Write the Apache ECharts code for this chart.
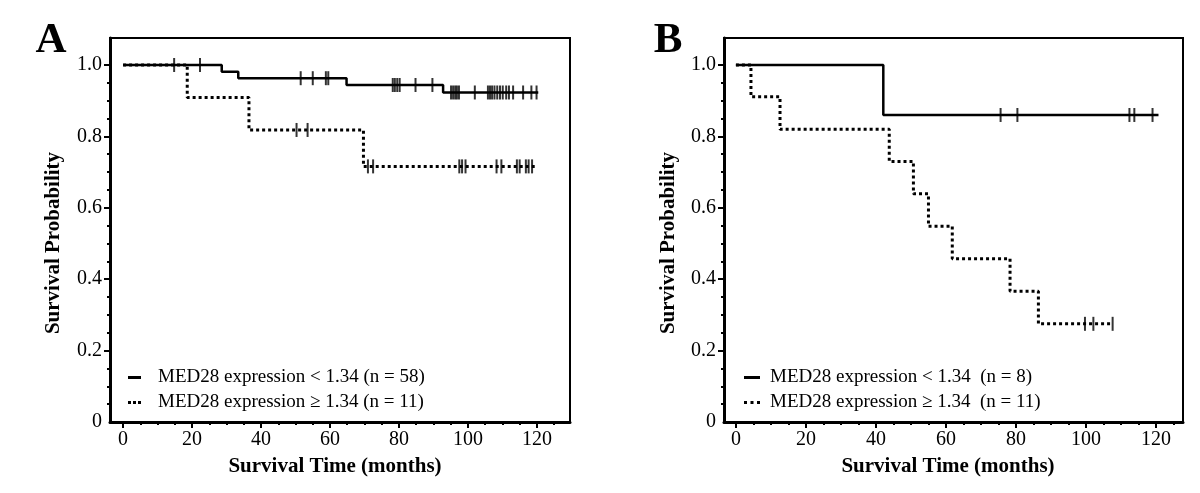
<!DOCTYPE html>
<html>
<head>
<meta charset="utf-8">
<script src="https://cdn.jsdelivr.net/npm/echarts@6/dist/echarts.min.js"></script>
<style>
html,body{margin:0;padding:0;background:#fff;}
#chart{width:1200px;height:493px;}
</style>
</head>
<body>
<div id="chart"></div>
<script>
// ---------- Data ----------
// Panel A
const aLowName = 'MED28 expression < 1.34 (n = 58)';
const aHighName = 'MED28 expression \u2265 1.34 (n = 11)';
const aLowTime = [0, 28.6, 33.4, 64.8, 92.8, 120.4];
const aLowSurv = [1.0, 0.981, 0.963, 0.944, 0.923, 0.923];
const aLowCensor = [14.8, 22.3, 51.5, 55.0, 58.8, 59.5, 78.2, 78.8, 79.5, 80.2, 84.8, 89.7,
  95.1, 95.7, 96.3, 96.8, 97.4, 102.0, 105.8, 106.4, 107.0, 107.7, 108.5, 109.3, 110.1,
  111.1, 111.9, 113.1, 116.0, 118.4, 119.9];
const aHighTime = [0, 18.6, 36.5, 69.7, 119.4];
const aHighSurv = [1.0, 0.909, 0.818, 0.716, 0.716];
const aHighCensor = [50.3, 53.5, 71.0, 72.5, 97.5, 98.3, 99.3, 108.3, 109.7,
  114.2, 115.0, 116.8, 117.6, 118.6];

// Panel B
const bLowName = 'MED28 expression < 1.34  (n = 8)';
const bHighName = 'MED28 expression \u2265 1.34  (n = 11)';
const bLowTime = [0, 42.1, 120.7];
const bLowSurv = [1.0, 0.86, 0.86];
const bLowCensor = [75.6, 80.4, 112.4, 113.8, 119.0];
const bHighTime = [0, 4.3, 12.6, 43.8, 50.7, 55.0, 61.8, 78.3, 86.4, 107.6];
const bHighSurv = [1.0, 0.911, 0.820, 0.730, 0.639, 0.548, 0.457, 0.366, 0.275, 0.275];
const bHighCensor = [99.7, 102.1, 107.6];

// Tick labels
const xMajorTicks = [0, 20, 40, 60, 80, 100, 120];
const xMinorTicks = [5, 10, 15, 25, 30, 35, 45, 50, 55, 65, 70, 75, 85, 90, 95, 105, 110, 115, 125];
const yMajorTicks = [0, 0.2, 0.4, 0.6, 0.8, 1.0];
const yMinorTicks = [0.05, 0.1, 0.15, 0.25, 0.3, 0.35, 0.45, 0.5, 0.55, 0.65, 0.7, 0.75, 0.85, 0.9, 0.95];

// ---------- Helpers ----------
function pairs(T, S) { return T.map((t, i) => [t, S[i]]); }
function survAt(T, S, t) { let s = S[0]; for (let i = 0; i < T.length; i++) if (T[i] <= t) s = S[i]; return s; }
function censorPts(C, T, S) { return C.map(t => [t, survAt(T, S, t)]); }

const FONT = 'Liberation Serif';
const grids = [
  { left: 110, top: 38, width: 460, height: 384, xmin: -3.8, xmax: 129.6 },
  { left: 724, top: 38, width: 459, height: 384, xmin: -3.4, xmax: 127.7 }
];

const xAxis = [], yAxis = [];
grids.forEach((g, gi) => {
  xAxis.push({
    type: 'value', gridIndex: gi, position: 'bottom', min: g.xmin, max: g.xmax,
    axisLine: { show: true, onZero: false, lineStyle: { color: '#000', width: 3 } },
    axisTick: { show: true, customValues: xMajorTicks, length: 6, lineStyle: { color: '#000', width: 2 } },
    axisLabel: { show: true, customValues: xMajorTicks, margin: 8, color: '#000', fontFamily: FONT, fontSize: 20 },
    splitLine: { show: false }
  });
  xAxis.push({
    type: 'value', gridIndex: gi, position: 'bottom', min: g.xmin, max: g.xmax,
    axisLine: { show: false, onZero: false },
    axisTick: { show: true, customValues: xMinorTicks, length: 3, lineStyle: { color: '#000', width: 2 } },
    axisLabel: { show: false }, splitLine: { show: false }
  });
  yAxis.push({
    type: 'value', gridIndex: gi, position: 'left', min: 0, max: 1.0756,
    axisLine: { show: true, onZero: false, lineStyle: { color: '#000', width: 3 } },
    axisTick: { show: true, customValues: yMajorTicks.slice(1), length: 6, lineStyle: { color: '#000', width: 2 } },
    axisLabel: { show: true, customValues: yMajorTicks, margin: 8, color: '#000', fontFamily: FONT, fontSize: 20,
      formatter: v => (v === 0 ? '0' : v.toFixed(1)) },
    splitLine: { show: false }
  });
  yAxis.push({
    type: 'value', gridIndex: gi, position: 'left', min: 0, max: 1.0756,
    axisLine: { show: false, onZero: false },
    axisTick: { show: true, customValues: yMinorTicks, length: 3, lineStyle: { color: '#000', width: 2 } },
    axisLabel: { show: false }, splitLine: { show: false }
  });
});

function kmLine(name, T, S, gi, dotted) {
  return {
    type: 'line', name: name, xAxisIndex: gi * 2, yAxisIndex: gi * 2, step: 'end',
    data: pairs(T, S), symbol: 'none', silent: true, animation: false,
    lineStyle: dotted ? { color: '#000', width: 3, type: [3, 3] } : { color: '#000', width: 2.5, type: 'solid' },
    itemStyle: { color: '#000' }, z: 2
  };
}
function censor(C, T, S, gi) {
  return {
    type: 'scatter', xAxisIndex: gi * 2, yAxisIndex: gi * 2,
    data: censorPts(C, T, S), symbol: 'rect', symbolSize: [2, 14],
    itemStyle: { color: '#000' }, silent: true, animation: false, z: 3
  };
}

const series = [
  kmLine(aLowName, aLowTime, aLowSurv, 0, false),
  kmLine(aHighName, aHighTime, aHighSurv, 0, true),
  censor(aLowCensor, aLowTime, aLowSurv, 0),
  censor(aHighCensor, aHighTime, aHighSurv, 0),
  kmLine(bLowName, bLowTime, bLowSurv, 1, false),
  kmLine(bHighName, bHighTime, bHighSurv, 1, true),
  censor(bLowCensor, bLowTime, bLowSurv, 1),
  censor(bHighCensor, bHighTime, bHighSurv, 1)
];

const ICONS_A = ['path://M0,0H13V3H0Z', 'path://M0,0H3V3H0Z M5,0H8V3H5Z M10,0H13V3H10Z'];
const ICONS_B = ['path://M0,0H16V3H0Z', 'path://M0,0H3V3H0Z M6.5,0H9.5V3H6.5Z M13,0H16V3H13Z'];

function legend(left, names, icons, textPad, iw) {
  return {
    orient: 'vertical', left: left, top: 368, padding: 0, itemGap: 6,
    itemWidth: iw, itemHeight: 3, selectedMode: false,
    data: [{ name: names[0], icon: icons[0] }, { name: names[1], icon: icons[1] }],
    itemStyle: { color: '#000', borderWidth: 0 },
    lineStyle: { width: 0 },
    textStyle: { color: '#000', fontFamily: FONT, fontSize: 19, lineHeight: 19, padding: [0, 0, 0, textPad] }
  };
}

function txt(x, y, text, size, bold, rot) {
  return {
    type: 'text', x: x, y: y, rotation: rot || 0, silent: true,
    style: { text: text, fill: '#000', font: (bold ? 'bold ' : '') + size + 'px "' + FONT + '"',
      textAlign: 'center', textVerticalAlign: 'middle' }
  };
}

const option = {
  backgroundColor: '#fff',
  animation: false,
  grid: grids.map(g => ({ left: g.left, top: g.top, width: g.width, height: g.height,
    show: true, borderColor: '#000', borderWidth: 2, backgroundColor: 'transparent', containLabel: false })),
  xAxis: xAxis,
  yAxis: yAxis,
  legend: [
    legend(128, [aLowName, aHighName], ICONS_A, 12, 13),
    legend(744, [bLowName, bHighName], ICONS_B, 5, 16)
  ],
  series: series,
  graphic: [
    txt(51, 41, 'A', 43, true),
    txt(668, 41, 'B', 43, true),
    txt(54, 243, 'Survival Probability', 21, true, Math.PI / 2),
    txt(669, 243, 'Survival Probability', 21, true, Math.PI / 2),
    txt(335, 467, 'Survival Time (months)', 21, true),
    txt(948, 467, 'Survival Time (months)', 21, true)
  ]
};

const chart = echarts.init(document.getElementById('chart'), null, { renderer: 'canvas' });
chart.setOption(option);
</script>
</body>
</html>
